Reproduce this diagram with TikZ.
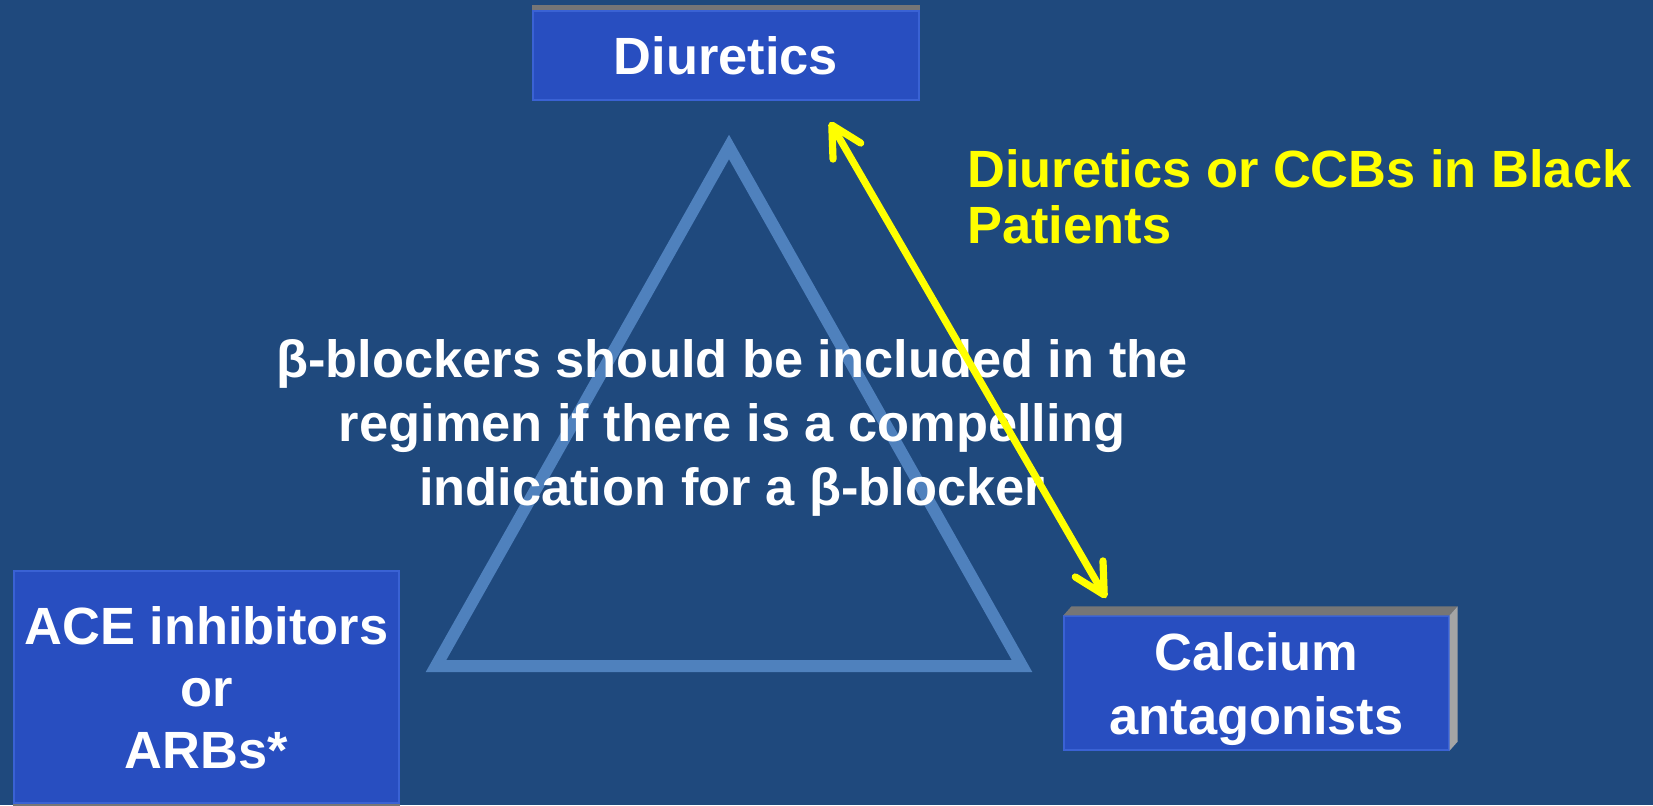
\documentclass[tikz,border=0pt]{standalone}
\usepackage{fontspec}
\setmainfont{Liberation Sans}
\usetikzlibrary{arrows.meta}
\definecolor{bg}{RGB}{31,73,125}
\definecolor{boxblue}{RGB}{40,78,192}
\definecolor{boxedge}{RGB}{58,98,212}
\definecolor{tri}{RGB}{79,129,189}
\definecolor{topgray}{RGB}{118,118,118}
\definecolor{sidegray}{RGB}{165,165,165}
\definecolor{yel}{RGB}{255,255,0}
\begin{document}
\begin{tikzpicture}[x=0.5pt,y=-0.5pt,
  drugbox/.style={draw=boxedge, line width=0.6pt, fill=boxblue, text=white,
    font=\bfseries\fontsize{26.2}{32}\selectfont, align=center, inner sep=0pt, text depth=0pt},
  maintext/.style={text=white, font=\bfseries\fontsize{26.2}{32}\selectfont, align=center, inner sep=0pt},
  notetext/.style={text=yel, font=\bfseries\fontsize{26.2}{28}\selectfont, align=left, inner sep=0pt},
  tripath/.style={draw=tri, line width=6pt, line join=miter},
  barb/.tip={Straight Barb[length=15pt,width=16pt,round]},
  twoway/.style={draw=yel, line width=3.6pt, line cap=round, barb-barb}]
% background / page
\fill[bg] (0,0) rectangle (1653,805);
\useasboundingbox (0,0) rectangle (1653,805);
% triangle
\draw[tripath] (729,147) -- (1022,666) -- (436,666) -- cycle;
% boxes
\node[drugbox, minimum width=193pt, minimum height=44.5pt] (diur) at (726,55.5) {Diuretics};
\fill[topgray] (diur.north west) rectangle ([yshift=2.5pt]diur.north east);
\node[drugbox, minimum width=192.5pt, minimum height=67pt] (calc) at (1256.5,683) {Calcium\\antagonists};
\fill[topgray] (calc.north west) -- ++(8,-9) -- ([shift={(4pt,4.5pt)}]calc.north east) -- (calc.north east) -- cycle;
\fill[sidegray] (calc.north east) -- ++(8,-9) -- ([shift={(4pt,4.5pt)}]calc.south east) -- (calc.south east) -- cycle;
\node[drugbox, font=\bfseries\fontsize{26.2}{31}\selectfont, minimum width=192.5pt, minimum height=116pt] (ace) at (206.5,687) {ACE inhibitors\\or\\ARBs*};
\fill[topgray] (ace.south west) rectangle ([yshift=-1.5pt]ace.south east);
% texts
\node[maintext, anchor=base] (main) at (732,505) {β-blockers should be included in the\\regimen if there is a compelling\\indication for a β-blocker};
\node[notetext, anchor=base west] (note) at (967,243) {Diuretics or CCBs in Black\\Patients};
% arrow
\coordinate (atop) at (830,122);
\coordinate (abot) at (1106,598);
\draw[twoway] (atop) -- (abot);
\end{tikzpicture}
\end{document}
